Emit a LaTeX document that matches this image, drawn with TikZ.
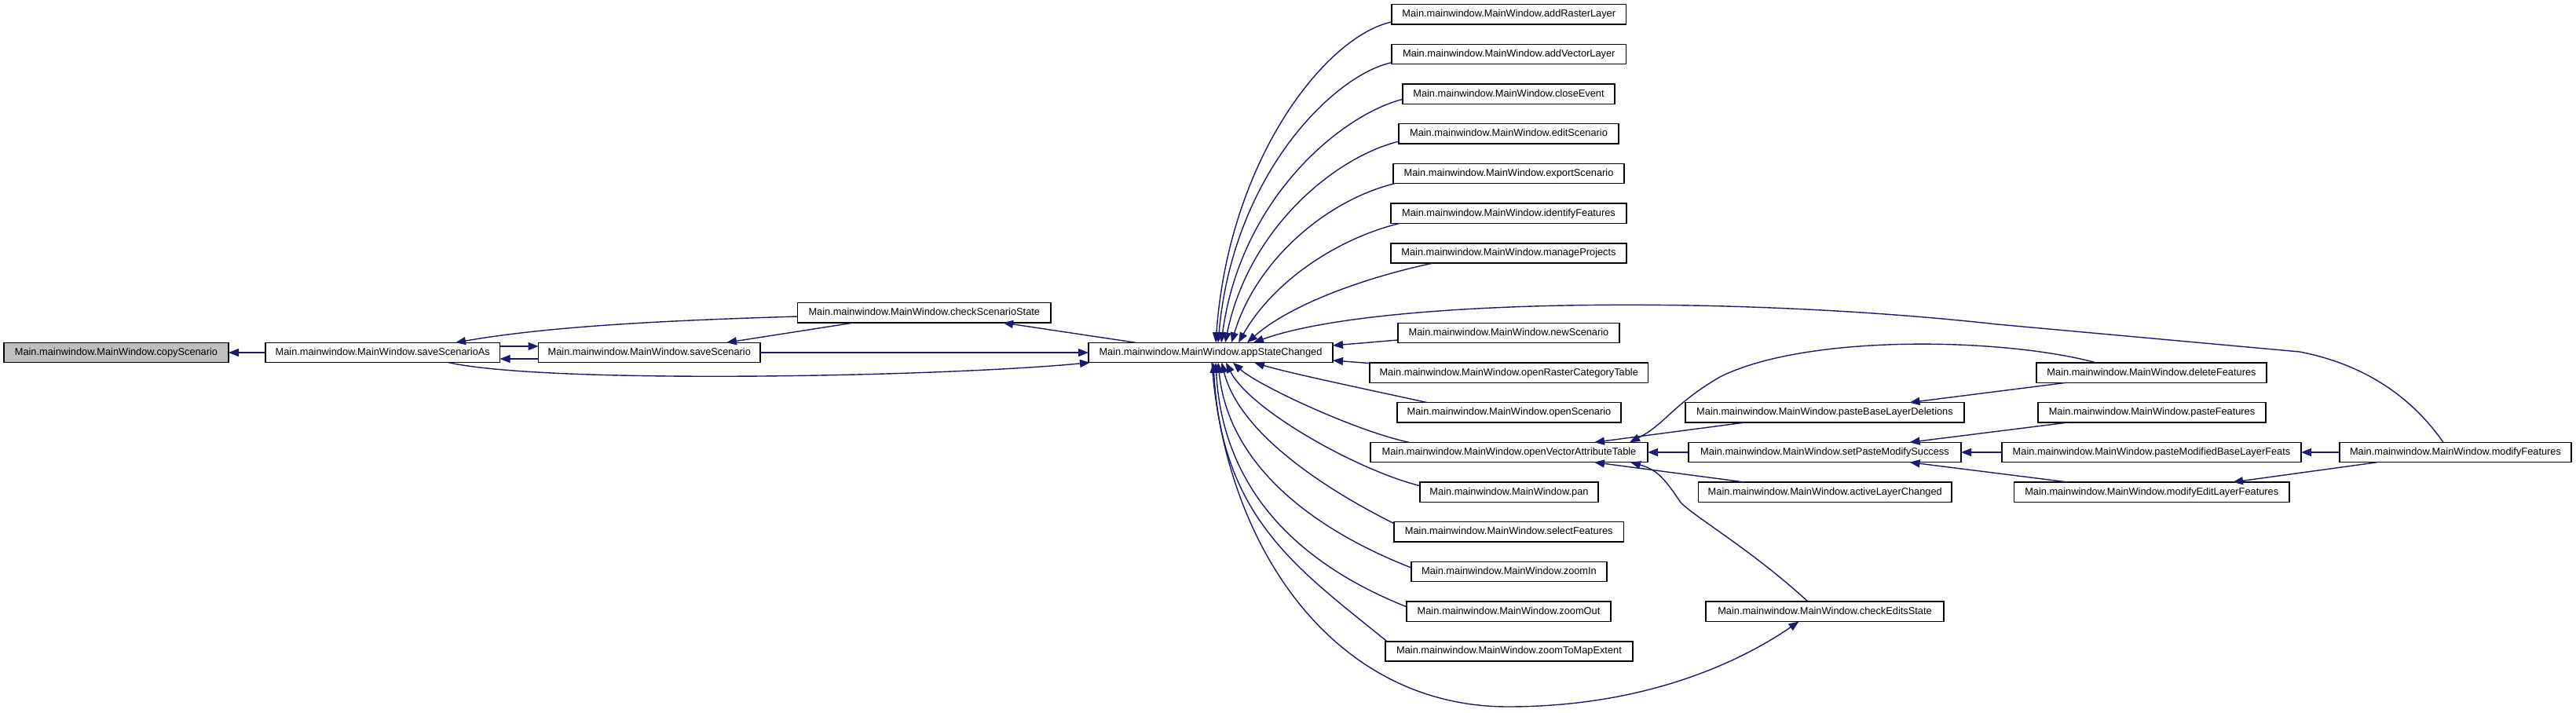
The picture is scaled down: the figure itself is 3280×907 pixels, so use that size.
\documentclass[tikz,border=0pt]{standalone}
\usepackage{fontspec}
\setmainfont{Liberation Sans}
\usetikzlibrary{arrows.meta,calc}
\definecolor{edgeblue}{RGB}{25,25,112}
\definecolor{rootgray}{RGB}{191,191,191}
\begin{document}
\begin{tikzpicture}[x=1bp,y=-1bp,
  fn/.style={draw=black, line width=1.5bp, fill=white, minimum height=25.4bp,
    inner sep=0pt, outer sep=0pt, font=\fontsize{12.8bp}{15bp}\selectfont,
    text height=9.4bp, text depth=2.6bp},
  call/.style={draw=edgeblue, line width=1.4bp, -{Triangle[length=13bp,width=10bp]}}]
\fill[white] (0,0) rectangle (3280,907);
\useasboundingbox (0,0) rectangle (3280,907);

% main row
\node[fn, fill=rootgray, minimum width=286bp] (copy) at (148,449) {Main.mainwindow.MainWindow.copyScenario};
\node[fn, minimum width=298.5bp] (ssa) at (487.25,449) {Main.mainwindow.MainWindow.saveScenarioAs};
\node[fn, minimum width=282.4bp] (ss) at (826.8,449) {Main.mainwindow.MainWindow.saveScenario};
\node[fn, minimum width=322.4bp] (css) at (1176.8,398.3) {Main.mainwindow.MainWindow.checkScenarioState};
\node[fn, minimum width=311bp] (A) at (1541.5,449) {Main.mainwindow.MainWindow.appStateChanged};

% column 2
\node[fn, minimum width=298.5bp] (arl) at (1921.25,18.3) {Main.mainwindow.MainWindow.addRasterLayer};
\node[fn, minimum width=298.5bp] (avl) at (1921.25,69) {Main.mainwindow.MainWindow.addVectorLayer};
\node[fn, minimum width=270bp] (ce) at (1921,119.7) {Main.mainwindow.MainWindow.closeEvent};
\node[fn, minimum width=280bp] (es) at (1921,170.4) {Main.mainwindow.MainWindow.editScenario};
\node[fn, minimum width=294bp] (ex) at (1921,221) {Main.mainwindow.MainWindow.exportScenario};
\node[fn, minimum width=300bp] (idf) at (1921,271.8) {Main.mainwindow.MainWindow.identifyFeatures};
\node[fn, minimum width=300bp] (mp) at (1921,322.5) {Main.mainwindow.MainWindow.manageProjects};
\node[fn, minimum width=282bp] (ns) at (1921,424) {Main.mainwindow.MainWindow.newScenario};
\node[fn, minimum width=354.5bp] (orct) at (1921.25,474.6) {Main.mainwindow.MainWindow.openRasterCategoryTable};
\node[fn, minimum width=285bp] (os) at (1921.5,525.3) {Main.mainwindow.MainWindow.openScenario};
\node[fn, minimum width=353bp] (ovat) at (1921.5,576) {Main.mainwindow.MainWindow.openVectorAttributeTable};
\node[fn, minimum width=227bp] (pan) at (1921.5,626.7) {Main.mainwindow.MainWindow.pan};
\node[fn, minimum width=292.5bp] (sf) at (1921.25,677.4) {Main.mainwindow.MainWindow.selectFeatures};
\node[fn, minimum width=249bp] (zi) at (1921.5,728) {Main.mainwindow.MainWindow.zoomIn};
\node[fn, minimum width=260bp] (zo) at (1921,778.8) {Main.mainwindow.MainWindow.zoomOut};
\node[fn, minimum width=315bp] (zme) at (1921.5,829.5) {Main.mainwindow.MainWindow.zoomToMapExtent};

% column 3
\node[fn, minimum width=355bp] (pbld) at (2323.5,525.3) {Main.mainwindow.MainWindow.pasteBaseLayerDeletions};
\node[fn, minimum width=347bp] (spms) at (2323.5,576) {Main.mainwindow.MainWindow.setPasteModifySuccess};
\node[fn, minimum width=322.5bp] (alc) at (2323.75,626.7) {Main.mainwindow.MainWindow.activeLayerChanged};
\node[fn, minimum width=303bp] (ces) at (2323.5,778.8) {Main.mainwindow.MainWindow.checkEditsState};

% column 4
\node[fn, minimum width=293bp] (df) at (2739.5,474.6) {Main.mainwindow.MainWindow.deleteFeatures};
\node[fn, minimum width=290bp] (pf) at (2740,525.3) {Main.mainwindow.MainWindow.pasteFeatures};
\node[fn, minimum width=381bp] (pmblf) at (2739.5,576) {Main.mainwindow.MainWindow.pasteModifiedBaseLayerFeats};
\node[fn, minimum width=350.5bp] (melf) at (2739.75,626.7) {Main.mainwindow.MainWindow.modifyEditLayerFeatures};

% column 5
\node[fn, minimum width=295bp] (mf) at (3126.5,576) {Main.mainwindow.MainWindow.modifyFeatures};

% ---- edges, left part
\draw[call] (ssa.west) -- (copy.east);
\draw[call] ($(ssa.east)+(0,-8)$) -- ($(ss.west)+(0,-8)$);
\draw[call] ($(ss.west)+(0,8)$) -- ($(ssa.east)+(0,8)$);
\draw[call] ($(css.west)+(0,4.7)$) .. controls +(-165,5) and +(120,-21) .. ($(ssa.north)+(92.75,0)$);
\draw[call] ($(css.south)+(-89.8,0)$) -- ($(ss.north)+(98.2,0)$);
\draw[call] ($(A.north)+(-95.5,0)$) -- ($(css.south)+(100.2,0)$);
\draw[call] (ss.east) -- (A.west);
\draw[call] ($(ssa.south)+(83.75,0)$) .. controls +(129,28) and +(-188,18) .. ($(A.south west)+(2,0)$);

% ---- edges into appStateChanged from above
\draw[call] ($(arl.south west)+(0,-3)$) .. controls +(-82,17) and +(17,-236) .. ($(A.north)+(6.5,0)$);
\draw[call] ($(avl.south west)+(0,-2)$) .. controls +(-72,15) and +(19,-216) .. ($(A.north)+(9.5,0)$);
\draw[call] ($(ce.south west)+(0,-6)$) .. controls +(-76,19) and +(25,-186) .. ($(A.north)+(13.5,0)$);
\draw[call] ($(es.south west)+(0,-3)$) .. controls +(-81,20) and +(30,-146) .. ($(A.north)+(18.5,0)$);
\draw[call] ($(ex.south west)+(2,0)$) .. controls +(-86,21) and +(32,-106) .. ($(A.north)+(26.5,0)$);
\draw[call] ($(idf.south west)+(11,0)$) .. controls +(-82,20) and +(43,-76) .. ($(A.north)+(35.5,0)$);
\draw[call] ($(mp.south west)+(53,0)$) .. controls +(-94,20) and +(52,-46) .. ($(A.north)+(46.5,0)$);
\draw[call] ($(mf.north)+(-15.5,0)$) .. controls +(-51,-73) and +(62,12) .. (2928,448)
  -- (2543,413) .. controls +(-343,-38) and +(154,-56) .. ($(A.north)+(54.5,0)$);

% ---- edges into appStateChanged from the right and below
\draw[call] ($(ns.west)+(0,9)$) -- ($(A.east)+(0,-9)$);
\draw[call] ($(orct.west)+(0,-12)$) -- ($(A.east)+(0,10)$);
\draw[call] ($(os.north west)+(38,0)$) .. controls +(-57,-12.6) and +(43,13.3) .. ($(A.south)+(55.5,0)$);
\draw[call] ($(ovat.north west)+(49,0)$) .. controls +(-70,-15) and +(30,28) .. ($(A.south)+(28.5,0)$);
\draw[call] ($(pan.west)+(0,-8)$) .. controls +(-80,-20) and +(30,60) .. ($(A.south)+(19.5,0)$);
\draw[call] ($(sf.north west)+(0,2)$) .. controls +(-60,-30) and +(25,100) .. ($(A.south)+(14,0)$);
\draw[call] ($(zi.west)+(0,-5)$) .. controls +(-90,-35) and +(15,150) .. ($(A.south)+(9.5,0)$);
\draw[call] ($(zo.west)+(0,-6)$) .. controls +(-100,-40) and +(10,190) .. ($(A.south)+(6.5,0)$);
\draw[call] ($(zme.north west)+(2,0)$) .. controls +(-110,-90) and +(10,200) .. ($(A.south)+(3.5,0)$);
\draw[call] ($(A.south)+(1.5,0)$) .. controls +(17,238) and +(-220,0) .. (1920,900)
  .. controls +(180,0) and +(-70.5,48.5) .. ($(ces.south)+(-33,0)$);

% ---- right part
\draw[call] ($(df.north)+(-70.5,0)$) .. controls +(-119,-32) and +(110,-55) .. (2190,480)
  .. controls +(-60,35) and +(45,-23) .. ($(ovat.north east)+(-23,0)$);
\draw[call] ($(pbld.south)+(-101.5,0)$) -- ($(ovat.north east)+(-68,0)$);
\draw[call] (spms.west) -- (ovat.east);
\draw[call] ($(alc.north)+(-102.75,0)$) -- ($(ovat.south east)+(-68,0)$);
\draw[call] ($(ces.north)+(-21.5,0)$) .. controls +(-72,-66) and +(20,20) .. (2140,640)
  .. controls +(-20,-30) and +(34,9.3) .. ($(ovat.south east)+(-22,0)$);
\draw[call] ($(df.south)+(-108.5,0)$) -- ($(pbld.north)+(108,0)$);
\draw[call] ($(pf.south)+(-107,0)$) -- ($(spms.north)+(108,0)$);
\draw[call] (pmblf.west) -- (spms.east);
\draw[call] ($(melf.north)+(-106.75,0)$) -- ($(spms.south)+(108,0)$);
\draw[call] (mf.west) -- (pmblf.east);
\draw[call] ($(mf.south)+(-99.5,0)$) -- ($(melf.north)+(103.25,0)$);
\end{tikzpicture}
\end{document}
